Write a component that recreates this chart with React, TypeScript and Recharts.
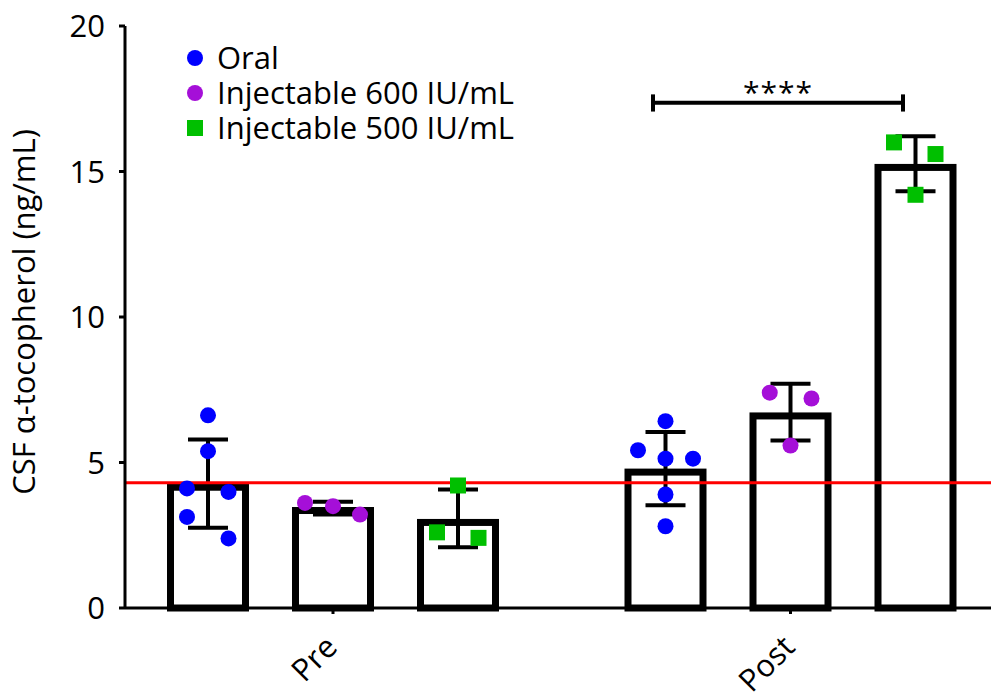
import React from 'react';
import {
  ComposedChart,
  Bar,
  Scatter,
  XAxis,
  YAxis,
  ErrorBar,
  ReferenceLine,
  Legend,
} from 'recharts';

const FONT = '"Open Sans", "Noto Sans", sans-serif';
const FS = 31;

const groups = ['Pre', 'Post'];
const groupTickX = [1, 4.66];
const treatments = ['Oral', 'Injectable 600 IU/mL', 'Injectable 500 IU/mL'];
const treatmentColors = ['#0000ff', '#a50fd8', '#00bf00'];

// bar positions on the x scale: Pre (Oral, 600, 500), Post (Oral, 600, 500)
const barX = [0, 1, 2, 3.66, 4.66, 5.66];
const means = [4.15, 3.35, 2.94, 4.67, 6.6, 15.14];
const sdLow = [2.76, 3.21, 2.09, 3.53, 5.76, 14.32];
const sdHigh = [5.79, 3.65, 4.07, 6.05, 7.71, 16.21];

// individual points: [bar index, horizontal jitter, value]
const oralPoints = [
  [0, 0, 6.62], [0, 0, 5.39], [0, -0.168, 4.11], [0, 0.164, 3.99], [0, -0.168, 3.13], [0, 0.164, 2.39],
  [3, 0, 6.42], [3, -0.22, 5.42], [3, 0, 5.13], [3, 0.22, 5.13], [3, 0, 3.9], [3, 0, 2.81],
];
const inj600Points = [
  [1, -0.224, 3.61], [1, 0, 3.5], [1, 0.216, 3.21],
  [4, -0.166, 7.4], [4, 0.168, 7.2], [4, 0, 5.58],
];
const inj500Points = [
  [2, 0, 4.21], [2, -0.168, 2.6], [2, 0.164, 2.41],
  [5, -0.172, 16.0], [5, 0.16, 15.6], [5, 0, 14.2],
];

const refLevel = 4.3;
const sigFrom = 3.56;
const sigTo = 5.56;
const sigY = 17.36;
const sigTickLow = 17.06;
const sigTickHigh = 17.65;
const sigLabel = '****';
const yTicks = [0, 5, 10, 15, 20];
const yLabel = 'CSF \u03b1-tocopherol (ng/mL)';

const barData = barX.map((x, i) => ({
  x,
  mean: means[i],
  err: [means[i] - sdLow[i], sdHigh[i] - means[i]],
}));

const toPoints = (pts: number[][]) => pts.map(([b, dx, v]) => ({ x: barX[b] + dx, y: v }));

const circleShape = (color: string) => (props: any) => (
  <circle cx={props.cx} cy={props.cy} r={8} fill={color} />
);
const squareShape = (color: string) => (props: any) => (
  <rect x={props.cx - 8} y={props.cy - 8} width={16} height={16} fill={color} />
);

const BAR_W = 75;
const BarShape = (props: any) => {
  const { x, y, width, height } = props;
  const cx = x + width / 2;
  return (
    <rect
      x={cx - BAR_W / 2}
      y={y}
      width={BAR_W}
      height={height}
      fill="#ffffff"
      stroke="#000"
      strokeWidth={7}
    />
  );
};

const XTick = (props: any) => {
  const { x, y, payload } = props;
  let idx = 0;
  let best = Infinity;
  groupTickX.forEach((g, i) => {
    const d = Math.abs(g - payload.value);
    if (d < best) {
      best = d;
      idx = i;
    }
  });
  const ax = x + 6;
  const ay = y + 33;
  return (
    <text
      x={ax}
      y={ay}
      transform={`rotate(-45 ${ax} ${ay})`}
      textAnchor="end"
      fontSize={FS}
      fontFamily={FONT}
      fill="#000"
    >
      {groups[idx]}
    </text>
  );
};

const YLabel = (props: any) => {
  const vb = props.viewBox || { x: 0, y: 0, width: 117, height: 582 };
  const cx = vb.x + 27;
  const cy = vb.y + vb.height / 2 - 5;
  return (
    <text
      x={cx}
      y={cy}
      transform={`rotate(-90 ${cx} ${cy})`}
      textAnchor="middle"
      fontSize={FS}
      fontFamily={FONT}
      fill="#000"
    >
      {yLabel}
    </text>
  );
};

const LegendContent = () => (
  <svg width={380} height={110} style={{ display: 'block', overflow: 'visible' }}>
    {treatments.map((t, i) => {
      const cy = 18 + i * 35;
      return (
        <g key={t}>
          {i < 2 ? (
            <circle cx={25} cy={cy} r={8} fill={treatmentColors[i]} />
          ) : (
            <rect x={17} y={cy - 8} width={16} height={16} fill={treatmentColors[i]} />
          )}
          <text x={47} y={cy + 11} fontSize={FS} fontFamily={FONT} fill="#000">
            {t}
          </text>
        </g>
      );
    })}
  </svg>
);

export default function App() {
  return (
    <div style={{ width: 991, height: 686, fontFamily: FONT }}>
      <ComposedChart
        width={991}
        height={686}
        data={barData}
        margin={{ top: 18, right: 0, left: 0, bottom: 0 }}
      >
        <XAxis
          dataKey="x"
          type="number"
          domain={[-0.664, 6.328]}
          allowDataOverflow
          ticks={groupTickX}
          interval={0}
          height={86}
          tick={<XTick />}
          tickSize={6}
          axisLine={{ stroke: '#000', strokeWidth: 3 }}
          tickLine={{ stroke: '#000', strokeWidth: 3 }}
        />
        <YAxis
          type="number"
          domain={[0, 20]}
          ticks={yTicks}
          interval={0}
          width={117}
          tickSize={6}
          tickMargin={14}
          tick={{ fontSize: FS, fill: '#000', fontFamily: FONT }}
          axisLine={{ stroke: '#000', strokeWidth: 3 }}
          tickLine={{ stroke: '#000', strokeWidth: 3 }}
          label={<YLabel />}
        />
        <Legend
          layout="vertical"
          align="center"
          verticalAlign="middle"
          wrapperStyle={{ position: 'absolute', left: 162, top: 32, width: 380, height: 110 }}
          content={<LegendContent />}
        />
        <Bar
          dataKey="mean"
          fill="#ffffff"
          stroke="#000"
          strokeWidth={7}
          barSize={BAR_W}
          shape={<BarShape />}
          isAnimationActive={false}
        >
          <ErrorBar dataKey="err" direction="y" width={20} strokeWidth={4} stroke="#000" />
        </Bar>
        <Scatter
          name={treatments[0]}
          data={toPoints(oralPoints)}
          dataKey="y"
          shape={circleShape(treatmentColors[0])}
          isAnimationActive={false}
        />
        <Scatter
          name={treatments[1]}
          data={toPoints(inj600Points)}
          dataKey="y"
          shape={circleShape(treatmentColors[1])}
          isAnimationActive={false}
        />
        <Scatter
          name={treatments[2]}
          data={toPoints(inj500Points)}
          dataKey="y"
          shape={squareShape(treatmentColors[2])}
          isAnimationActive={false}
        />
        <ReferenceLine y={refLevel} stroke="#ff0000" strokeWidth={3} />
        <ReferenceLine
          segment={[{ x: sigFrom, y: sigY }, { x: sigTo, y: sigY }]}
          stroke="#000"
          strokeWidth={4}
          label={{ value: sigLabel, position: 'top', offset: 0, fontSize: 30, fill: '#000', fontFamily: FONT, letterSpacing: 1 }}
        />
        <ReferenceLine
          segment={[{ x: sigFrom, y: sigTickLow }, { x: sigFrom, y: sigTickHigh }]}
          stroke="#000"
          strokeWidth={4}
        />
        <ReferenceLine
          segment={[{ x: sigTo, y: sigTickLow }, { x: sigTo, y: sigTickHigh }]}
          stroke="#000"
          strokeWidth={4}
        />
      </ComposedChart>
    </div>
  );
}
